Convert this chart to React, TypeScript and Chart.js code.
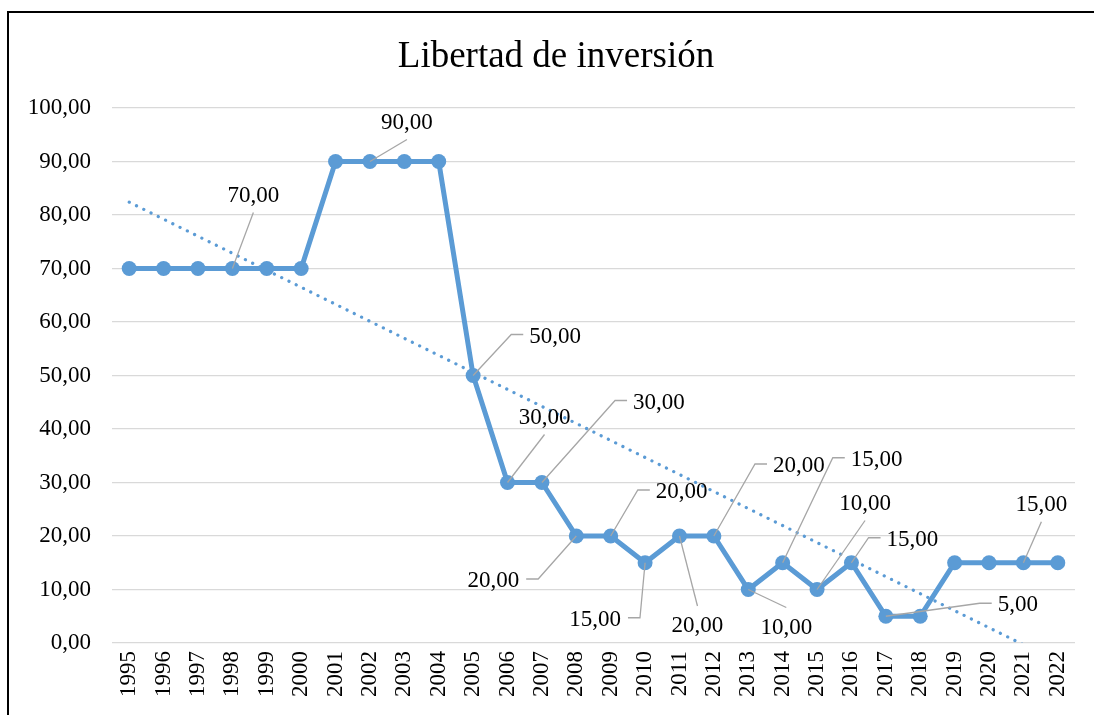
import React, { useEffect, useRef } from "react";
import { Chart, registerables } from "chart.js";

Chart.register(...registerables);

const categories = [
  "1995", "1996", "1997", "1998", "1999", "2000", "2001", "2002", "2003", "2004",
  "2005", "2006", "2007", "2008", "2009", "2010", "2011", "2012", "2013", "2014",
  "2015", "2016", "2017", "2018", "2019", "2020", "2021", "2022",
];
const values = [
  70, 70, 70, 70, 70, 70, 90, 90, 90, 90,
  50, 30, 30, 20, 20, 15, 20, 20, 10, 15,
  10, 15, 5, 5, 15, 15, 15, 15,
];
// Linear trend line: value at first and last category
const trendStart = 82.4;
const trendEnd = -3.5;
const trendValues: (number | null)[] = categories.map((_, i) =>
  i === 0 ? trendStart : i === categories.length - 1 ? trendEnd : null
);
const yMin = 0;
const yMax = 100;
const yStep = 10;
const title = "Libertad de inversión";

// which points carry a data label (indices into values), with label placement
const labelLayout = [
  { i: 3, dx: 21, dy: -73, anchor: "bottom" },
  { i: 7, dx: 37, dy: -39, anchor: "bottom" },
  { i: 10, dx: 82, dy: -39, anchor: "left" },
  { i: 11, dx: 37, dy: -65, anchor: "bottom" },
  { i: 12, dx: 117, dy: -80, anchor: "left" },
  { i: 13, dx: -83, dy: 45, anchor: "right" },
  { i: 14, dx: 71, dy: -44, anchor: "left" },
  { i: 15, dx: -50, dy: 57, anchor: "right" },
  { i: 16, dx: 18, dy: 90, anchor: "top" },
  { i: 17, dx: 85, dy: -70, anchor: "left" },
  { i: 18, dx: 38, dy: 38, anchor: "top" },
  { i: 19, dx: 94, dy: -103, anchor: "left" },
  { i: 20, dx: 48, dy: -86, anchor: "bottom" },
  { i: 21, dx: 61, dy: -23, anchor: "left" },
  { i: 22, dx: 132, dy: -11, anchor: "left" },
  { i: 26, dx: 18, dy: -58, anchor: "bottom" },
];

const FONT = "'Liberation Serif', 'Times New Roman', serif";
const BLUE = "#5B9BD5";
const fmt = (v: number) => v.toFixed(2).replace(".", ",");

const titlePlugin = {
  id: "centeredTitle",
  afterDraw(chart: any) {
    const ctx = chart.ctx as CanvasRenderingContext2D;
    ctx.save();
    ctx.font = `37px ${FONT}`;
    ctx.fillStyle = "#000";
    ctx.textAlign = "center";
    ctx.textBaseline = "middle";
    ctx.fillText(title, 547, 44);
    ctx.restore();
  },
};

const labelPlugin = {
  id: "leaderLabels",
  afterDatasetsDraw(chart: any) {
    const meta = chart.getDatasetMeta(0);
    const ctx = chart.ctx as CanvasRenderingContext2D;
    ctx.save();
    ctx.font = `23px ${FONT}`;
    ctx.textAlign = "center";
    ctx.textBaseline = "middle";
    for (const l of labelLayout) {
      const p = meta.data[l.i];
      if (!p) continue;
      const px = p.x;
      const py = p.y;
      const cx = px + l.dx;
      const cy = py + l.dy;
      const text = fmt(values[l.i]);
      const hw = ctx.measureText(text).width / 2;
      ctx.strokeStyle = "#A6A6A6";
      ctx.lineWidth = 1.3;
      ctx.beginPath();
      if (l.anchor === "bottom") {
        ctx.moveTo(cx, cy + 17);
        ctx.lineTo(px, py);
      } else if (l.anchor === "top") {
        ctx.moveTo(cx, cy - 20);
        ctx.lineTo(px, py);
      } else if (l.anchor === "left") {
        const sx = cx - hw - 6;
        ctx.moveTo(sx, cy - 2);
        ctx.lineTo(sx - 12, cy - 2);
        ctx.lineTo(px, py);
      } else if (l.anchor === "right") {
        const sx = cx + hw + 7;
        ctx.moveTo(sx, cy - 2);
        ctx.lineTo(sx + 12, cy - 2);
        ctx.lineTo(px, py);
      }
      ctx.stroke();
      ctx.fillStyle = "#000";
      ctx.fillText(text, cx, cy);
    }
    ctx.restore();
  },
};

export default function App() {
  const ref = useRef<HTMLCanvasElement | null>(null);
  useEffect(() => {
    if (!ref.current) return;
    const chart = new Chart(ref.current, {
      type: "line",
      data: {
        labels: categories,
        datasets: [
          {
            data: values,
            borderColor: BLUE,
            backgroundColor: BLUE,
            borderWidth: 5,
            pointRadius: 7.5,
            pointBorderWidth: 0,
            pointBackgroundColor: BLUE,
            tension: 0,
          },
          {
            data: trendValues,
            borderColor: BLUE,
            borderWidth: 3.2,
            borderDash: [0.1, 8],
            borderCapStyle: "round",
            pointRadius: 0,
            spanGaps: true,
            tension: 0,
          },
        ],
      },
      options: {
        responsive: false,
        animation: false,
        events: [],
        layout: { padding: { left: 0, right: 19, top: 95, bottom: 0 } },
        plugins: {
          legend: { display: false },
          tooltip: { enabled: false },
          title: { display: false },
        },
        scales: {
          x: {
            type: "category",
            offset: true,
            grid: { display: false, drawTicks: false },
            border: { display: false },
            ticks: {
              color: "#000",
              font: { family: FONT, size: 23 },
              minRotation: 90,
              maxRotation: 90,
              autoSkip: false,
              padding: 8,
            },
            afterFit: (s: any) => {
              s.height = 72;
            },
          },
          y: {
            min: yMin,
            max: yMax,
            grid: { color: "#D9D9D9", lineWidth: 1.3, drawTicks: false },
            border: { display: false },
            ticks: {
              stepSize: yStep,
              color: "#000",
              font: { family: FONT, size: 23 },
              padding: 21,
              callback: (v: any) => fmt(Number(v)),
            },
            afterFit: (s: any) => {
              s.width = 103;
            },
          },
        },
      },
      plugins: [labelPlugin, titlePlugin],
    } as any);
    return () => chart.destroy();
  }, []);
  return (
    <div
      style={{
        position: "fixed",
        left: 7,
        top: 11,
        width: 1110,
        height: 720,
        borderLeft: "2px solid #000",
        borderTop: "2px solid #000",
        background: "#fff",
      }}
    >
      <canvas ref={ref} width={1085} height={702} style={{ display: "block" }} />
    </div>
  );
}
